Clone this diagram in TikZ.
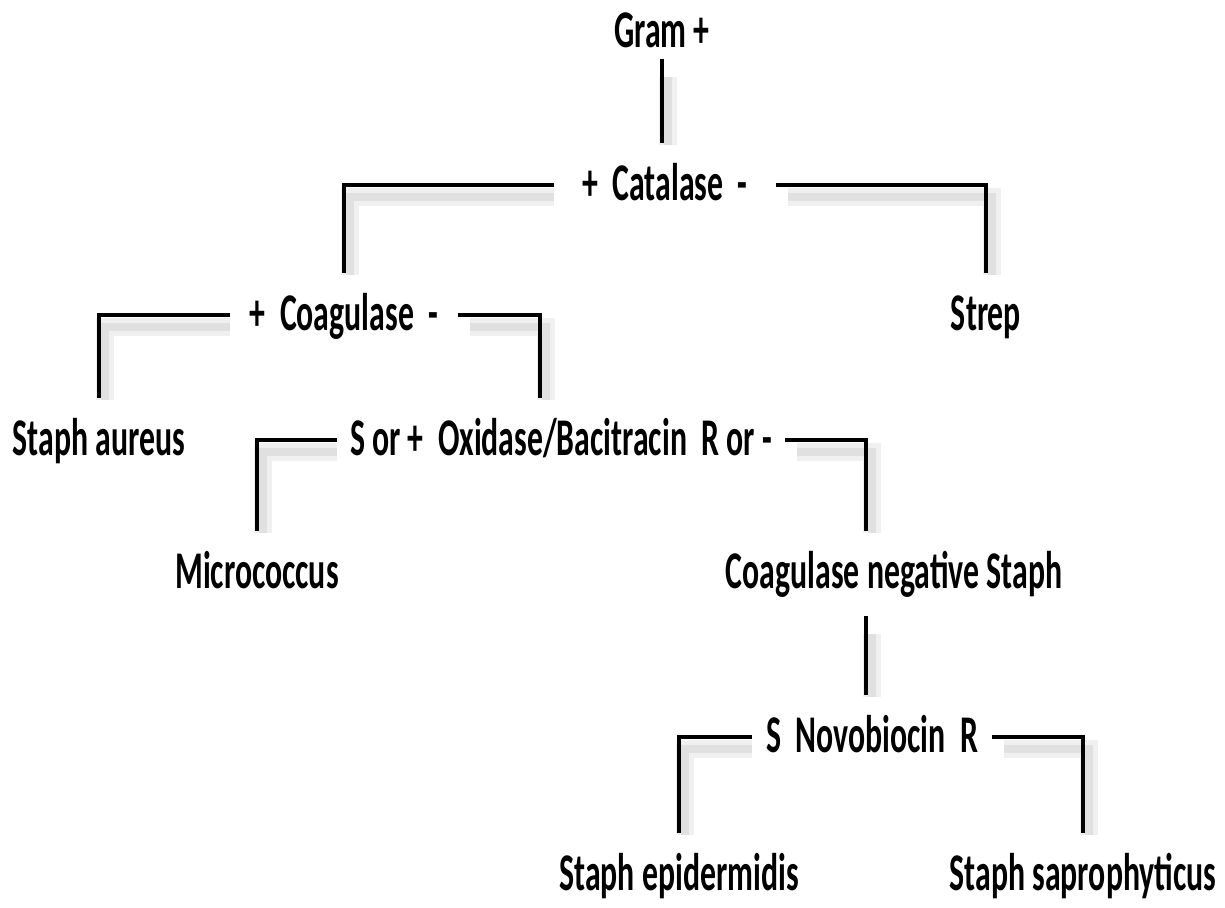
\documentclass[tikz,border=0pt]{standalone}
\usepackage{fontspec}
\setmainfont{Carlito}[FakeStretch=0.6]
\usetikzlibrary{calc,backgrounds}

\tikzset{
  lbl/.style={font=\bfseries\fontsize{26.5}{30}\selectfont, anchor=base,
    inner xsep=9pt, inner ysep=10pt, text height=18.5pt, text depth=4pt},
  link/.style={line width=2.4pt,
    preaction={draw=black!6, line width=9pt, shorten >=5pt, shorten <=3pt,
      transform canvas={shift={(3pt,-6pt)}}},
    preaction={draw=black!12, line width=4pt, shorten >=5pt, shorten <=3pt,
      transform canvas={shift={(3pt,-6pt)}}}}
}

\begin{document}
\begin{tikzpicture}[x=0.5pt, y=-0.5pt]
  \useasboundingbox (0,0) rectangle (1225,907);

  \node[lbl] (gram)  at (662, 47)  {Gram +};
  \node[lbl, inner xsep=14pt] (cat) at (665, 200) {+\ \ Catalase\ \ -};
  \node[lbl, inner xsep=9.5pt] (coag) at (344, 330) {+\ \ Coagulase\ \ -};
  \node[lbl] (strep) at (986, 330) {Strep};
  \node[lbl] (aureus) at (99, 455) {Staph aureus};
  \node[lbl, inner xsep=6.5pt] (oxi) at (561, 455) {S or +\ \ Oxidase/Bacitracin\ \ R or -};
  \node[lbl] (micro) at (257, 588) {Micrococcus};
  \node[lbl] (cns)   at (894, 588) {Coagulase negative Staph};
  \node[lbl, inner xsep=7pt] (novo) at (872, 752) {S\ \ Novobiocin\ \ R};
  \node[lbl] (epi)   at (679, 890) {Staph epidermidis};
  \node[lbl] (sapro) at (1083, 890) {Staph saprophyticus};

  \coordinate (gramdrop) at ([yshift=8pt]gram.south);
  \coordinate (oxidrop) at ($(oxi.north)+(-21,0)$);
  \coordinate (cnsdrop) at ($(cns.north)+(-28,0)$);

  \begin{scope}[on background layer]
  % catalase
  \draw[link] (gramdrop) -- (gramdrop |- cat.north);
  \draw[link] ([yshift=7.5pt]cat.base west) -| (coag.north);
  \draw[link] ([yshift=7.5pt]cat.base east) -| (strep.north);
  % coagulase
  \draw[link] ([yshift=7.5pt]coag.base west) -| (aureus.north);
  \draw[link] ([yshift=7.5pt]coag.base east) -| (oxidrop);
  % oxidase / bacitracin
  \draw[link] ([yshift=7.5pt]oxi.base west) -| (micro.north);
  \draw[link] ([yshift=7.5pt]oxi.base east) -| (cnsdrop);
  \draw[link] (cnsdrop |- cns.south) -- (cnsdrop |- novo.north);
  % novobiocin
  \draw[link] ([yshift=7.5pt]novo.base west) -| (epi.north);
  \draw[link] ([yshift=7.5pt]novo.base east) -| (sapro.north);
  \end{scope}
\end{tikzpicture}
\end{document}
